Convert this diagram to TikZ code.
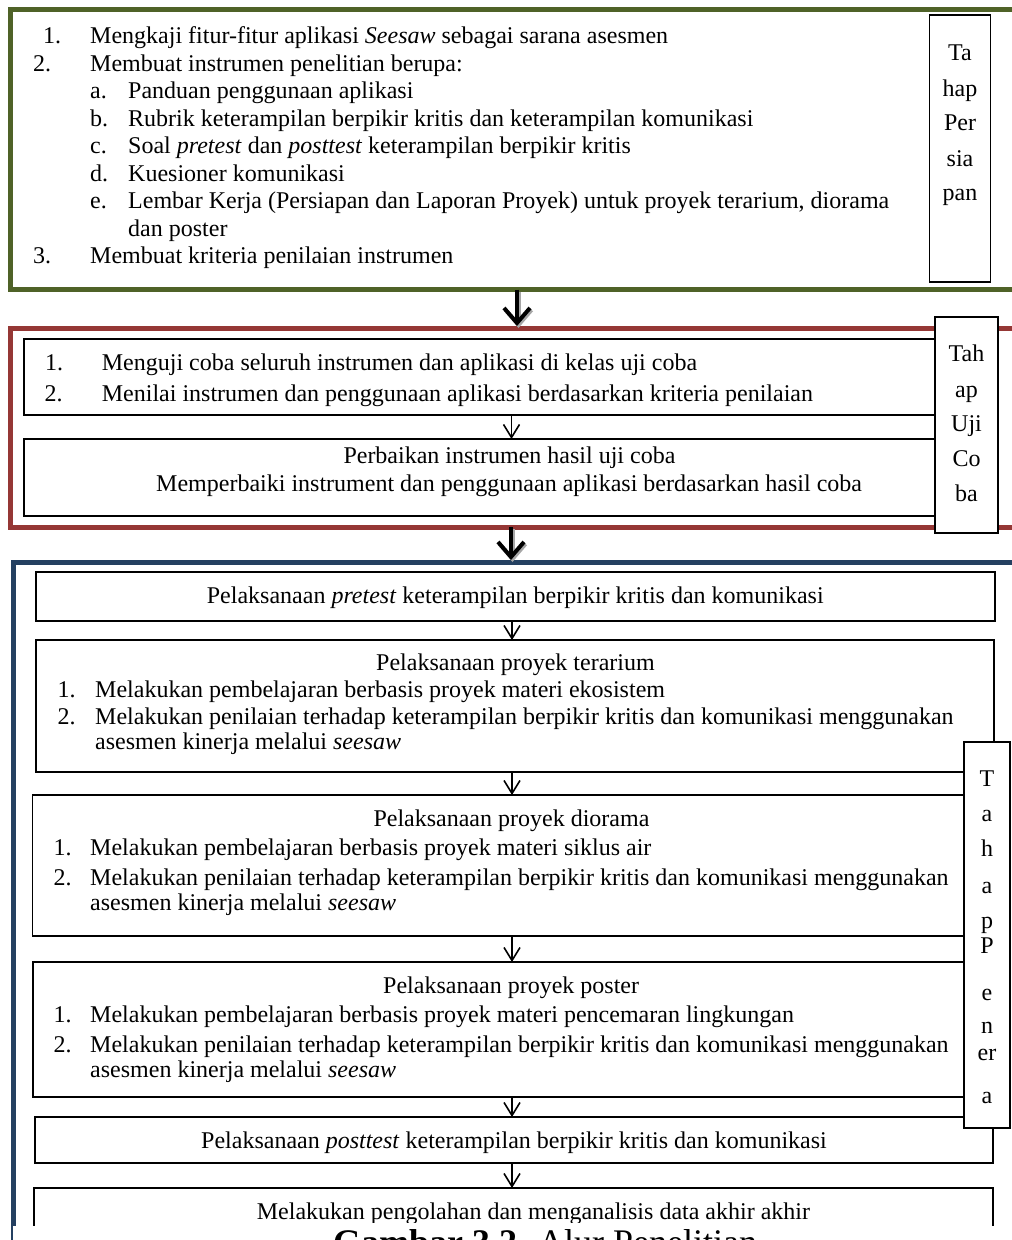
\documentclass[tikz,border=0pt]{standalone}
\usepackage{fontspec}
\setmainfont{Liberation Serif}
\usetikzlibrary{arrows.meta}
\definecolor{gframe}{RGB}{79,98,40}
\definecolor{rframe}{RGB}{149,55,53}
\definecolor{bframe}{RGB}{36,64,97}
\begin{document}
\begin{tikzpicture}[x=1pt,y=-1pt,
  txt/.style={anchor=base west, inner sep=0pt, font=\fontsize{24}{28}\selectfont},
  ctxt/.style={anchor=base, inner sep=0pt, font=\fontsize{24}{28}\selectfont},
  frm/.style={draw=#1, line width=5pt, anchor=north west, inner sep=0pt, outer sep=0pt},
  bx/.style={draw=black, line width=1.2pt, anchor=north west, inner sep=0pt, outer sep=0pt, fill=white},
  lbl/.style={draw=black, line width=1.2pt, anchor=north west, inner sep=0pt, outer sep=0pt, fill=white},
  bigarr/.style={line width=4pt, -{Straight Barb[length=15pt,width=26pt]}, shorten >=2pt},
  smarr/.style={line width=1.6pt, -{Straight Barb[length=13pt,width=16pt]}},
]
\clip (0,0) rectangle (1012,1240);
\fill[white] (0,0) rectangle (1012,1240);

% ---------- frames ----------
\node[frm=gframe, minimum width=1040pt, minimum height=280pt] (gf) at (10.5,9.5) {};
\node[frm=rframe, minimum width=1040pt, minimum height=199pt] (rf) at (10.5,328) {};
\node[frm=bframe, minimum width=1040pt, minimum height=800pt] (bf) at (13.5,562) {};

% ---------- Tahap Persiapan ----------
\node[txt] (g1n) at (43,43.5) {1.};
\node[txt] (g1) at (90,43.5) {Mengkaji fitur-fitur aplikasi \textit{Seesaw} sebagai sarana asesmen};
\node[txt] (g2n) at (33,71) {2.};
\node[txt] (g2) at (90,71) {Membuat instrumen penelitian berupa:};
\node[txt] (gan) at (90,98.5) {a.};
\node[txt] (ga) at (128,98.5) {Panduan penggunaan aplikasi};
\node[txt] (gbn) at (90,126) {b.};
\node[txt] (gb) at (128,126) {Rubrik keterampilan berpikir kritis dan keterampilan komunikasi};
\node[txt] (gcn) at (90,153.5) {c.};
\node[txt] (gc) at (128,153.5) {Soal \textit{pretest} dan \textit{posttest} keterampilan berpikir kritis};
\node[txt] (gdn) at (90,181) {d.};
\node[txt] (gd) at (128,181) {Kuesioner komunikasi};
\node[txt] (gen) at (90,208.5) {e.};
\node[txt] (ge) at (128,208.5) {Lembar Kerja (Persiapan dan Laporan Proyek) untuk proyek terarium, diorama};
\node[txt] (ge2) at (128,236) {dan poster};
\node[txt] (g3n) at (33,263.5) {3.};
\node[txt] (g3) at (90,263.5) {Membuat kriteria penilaian instrumen};

\node[lbl, minimum width=61pt, minimum height=267pt] (lp) at (929.5,15) {};
\node[ctxt] (lp1) at (960,60) {Ta};
\node[ctxt] (lp2) at (960,96.5) {hap};
\node[ctxt] (lp3) at (960,130.5) {Per};
\node[ctxt] (lp4) at (960,166.5) {sia};
\node[ctxt] (lp5) at (960,200) {pan};

% ---------- Tahap Uji Coba ----------
\node[bx, minimum width=969pt, minimum height=76pt] (rb1) at (24,339) {};
\node[bx, minimum width=969pt, minimum height=77pt] (rb2) at (24,439) {};
\begin{scope}
\clip (24,339) rectangle (993,406.5);
\node[txt] (r1n) at (45,370.7) {1.};
\node[txt] (r1) at (101.7,370.7) {Menguji coba seluruh instrumen dan aplikasi di kelas uji coba};
\node[txt] (r2n) at (44.3,401.7) {2.};
\node[txt] (r2) at (101.7,401.7) {Menilai instrumen dan penggunaan aplikasi berdasarkan kriteria penilaian};
\end{scope}
\node[txt] (r3) at (343.3,463.3) {Perbaikan instrumen hasil uji coba};
\node[txt] (r4) at (156,491.7) {Memperbaiki instrument dan penggunaan aplikasi berdasarkan hasil coba};

\node[lbl, minimum width=63pt, minimum height=216pt] (lu) at (935,317) {};
\node[ctxt] (lu1) at (966.5,361.7) {Tah};
\node[ctxt] (lu2) at (966.5,397) {ap};
\node[ctxt] (lu3) at (966.5,431.7) {Uji};
\node[ctxt] (lu4) at (966.5,466.7) {Co};
\node[ctxt] (lu5) at (966.5,501.7) {ba};

% ---------- Tahap Penerapan ----------
\node[bx, minimum width=959pt, minimum height=49pt] (bp) at (36,572) {};
\node[bx, minimum width=958pt, minimum height=132pt] (bt) at (36,640) {};
\node[bx, minimum width=957.5pt, minimum height=141pt] (bd) at (32.5,795) {};
\node[bx, minimum width=957pt, minimum height=135pt] (bpo) at (33,962) {};
\node[bx, minimum width=958pt, minimum height=46pt] (bpt) at (35,1117) {};
\node[bx, minimum width=959pt, minimum height=80pt] (bfin) at (34,1188) {};

\node[txt] (p0) at (206.7,603.3) {Pelaksanaan \textit{pretest} keterampilan berpikir kritis dan komunikasi};

\node[txt] (t0) at (376,670.7) {Pelaksanaan proyek terarium};
\node[txt] (t1n) at (57.3,697.3) {1.};
\node[txt] (t1) at (95,697.3) {Melakukan pembelajaran berbasis proyek materi ekosistem};
\node[txt] (t2n) at (57.3,724) {2.};
\node[txt] (t2) at (95,724) {Melakukan penilaian terhadap keterampilan berpikir kritis dan komunikasi menggunakan};
\node[txt] (t3) at (95,749.3) {asesmen kinerja melalui \textit{seesaw}};

\node[txt] (d0) at (373.3,826) {Pelaksanaan proyek diorama};
\node[txt] (d1n) at (53.3,855) {1.};
\node[txt] (d1) at (90,855) {Melakukan pembelajaran berbasis proyek materi siklus air};
\node[txt] (d2n) at (53.3,885) {2.};
\node[txt] (d2) at (90,885) {Melakukan penilaian terhadap keterampilan berpikir kritis dan komunikasi menggunakan};
\node[txt] (d3) at (90,910) {asesmen kinerja melalui \textit{seesaw}};

\node[txt] (o0) at (383,993) {Pelaksanaan proyek poster};
\node[txt] (o1n) at (53.3,1022) {1.};
\node[txt] (o1) at (90,1022) {Melakukan pembelajaran berbasis proyek materi pencemaran lingkungan};
\node[txt] (o2n) at (53.3,1052) {2.};
\node[txt] (o2) at (90,1052) {Melakukan penilaian terhadap keterampilan berpikir kritis dan komunikasi menggunakan};
\node[txt] (o3) at (90,1077) {asesmen kinerja melalui \textit{seesaw}};

\node[txt] (q0) at (201,1148.3) {Pelaksanaan \textit{posttest} keterampilan berpikir kritis dan komunikasi};
\begin{scope}
\clip (34,1188) rectangle (993,1222);
\node[txt] (f0) at (256.7,1219) {Melakukan pengolahan dan menganalisis data akhir akhir};
\end{scope}

\node[lbl, minimum width=46pt, minimum height=386pt] (lt) at (964,742) {};
\node[ctxt] (lt1) at (987,786.7) {T};
\node[ctxt] (lt2) at (987,821.7) {a};
\node[ctxt] (lt3) at (987,856.7) {h};
\node[ctxt] (lt4) at (987,893.3) {a};
\node[ctxt] (lt5) at (987,928.3) {p};
\node[ctxt] (lt6) at (987,953.3) {P};
\node[ctxt] (lt7) at (987,1000) {e};
\node[ctxt] (lt8) at (987,1033.3) {n};
\node[ctxt] (lt9) at (987,1060) {er};
\node[ctxt] (lt10) at (987,1103.3) {a};

% ---------- arrows ----------
\coordinate (ax1) at (517,0);
\coordinate (ax2) at (511.5,0);
\coordinate (ax3) at (511,0);
\coordinate (ax4) at (512,0);
\draw[bigarr, black!35] ([xshift=1.5pt,yshift=-2pt]gf.south -| ax1) -- ([xshift=1.5pt,yshift=-2pt]rf.north -| ax1);
\draw[bigarr] (gf.south -| ax1) -- (rf.north -| ax1);
\draw[smarr] (rb1.south -| ax2) -- (rb2.north -| ax2);
\draw[bigarr, black!35] ([xshift=1.5pt,yshift=-2pt]rf.south -| ax3) -- ([xshift=1.5pt,yshift=-2pt]bf.north -| ax3);
\draw[bigarr] (rf.south -| ax3) -- (bf.north -| ax3);
\draw[smarr] (bp.south -| ax4) -- (bt.north -| ax4);
\draw[smarr] (bt.south -| ax4) -- (bd.north -| ax4);
\draw[smarr] (bd.south -| ax4) -- (bpo.north -| ax4);
\draw[smarr] (bpo.south -| ax4) -- (bpt.north -| ax4);
\draw[smarr] (bpt.south -| ax4) -- (bfin.north -| ax4);

% ---------- caption ----------
\fill[white] (13,1226) rectangle (1012,1240);
\node[anchor=base west, inner sep=0pt, font=\fontsize{36}{40}\selectfont] (cap) at (333,1254) {\textbf{Gambar 3.2.} Alur Penelitian};
\end{tikzpicture}
\end{document}
